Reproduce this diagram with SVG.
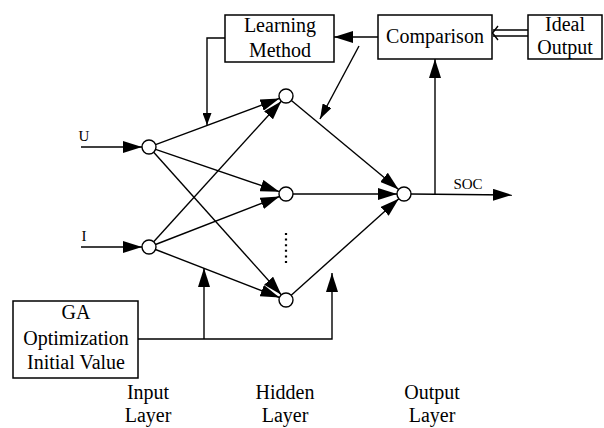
<svg xmlns="http://www.w3.org/2000/svg" width="604" height="428" viewBox="0 0 604 428">
  <style>
    .box { fill: #fff; stroke: #000; stroke-width: 1.5; }
    .node { fill: #fff; stroke: #000; stroke-width: 1.4; }
    .ln { fill: none; stroke: #000; stroke-width: 1.4; }
    text { font-family: 'Liberation Serif', 'DejaVu Serif', Times, serif; fill: #000; text-anchor: middle; }
    .lbl { font-size: 20px; }
    .sm { font-size: 15px; }
    .big { marker-end: url(#ahBig); }
    .mid { marker-end: url(#ahMid); }
    .small { marker-end: url(#ahSmall); }
  </style>
  <defs>
    <marker id="ahBig" markerUnits="userSpaceOnUse" markerWidth="20" markerHeight="12" refX="19" refY="6" orient="auto">
      <path d="M0,0 L19,6 L0,12 z" fill="#000"/>
    </marker>
    <marker id="ahMid" markerUnits="userSpaceOnUse" markerWidth="16" markerHeight="10" refX="15" refY="5" orient="auto">
      <path d="M0,0 L15,5 L0,10 z" fill="#000"/>
    </marker>
    <marker id="ahSmall" markerUnits="userSpaceOnUse" markerWidth="13" markerHeight="9" refX="12" refY="4.5" orient="auto">
      <path d="M0,0 L12,4.5 L0,9 z" fill="#000"/>
    </marker>
  </defs>

  <!-- connectors -->
  <g id="connectors">
    <!-- inputs -->
    <line class="ln big" x1="81" y1="147" x2="142" y2="147"/>
    <line class="ln big" x1="81" y1="247" x2="142" y2="247"/>
    <!-- input layer to hidden layer -->
    <line class="ln big" x1="155.6" y1="144.6" x2="279.4" y2="98.4"/>
    <line class="ln big" x1="155.6" y1="149.3" x2="279.4" y2="191.7"/>
    <line class="ln big" x1="153.7" y1="152.2" x2="281.3" y2="294.8"/>
    <line class="ln big" x1="153.7" y1="241.8" x2="281.3" y2="101.2"/>
    <line class="ln big" x1="155.5" y1="244.5" x2="279.5" y2="196.5"/>
    <line class="ln big" x1="155.5" y1="249.5" x2="279.5" y2="297.5"/>
    <!-- hidden layer to output -->
    <line class="ln big" x1="291.4" y1="100.5" x2="398.6" y2="189.5"/>
    <line class="ln big" x1="293" y1="194" x2="397" y2="194"/>
    <line class="ln big" x1="291.2" y1="295.3" x2="398.8" y2="198.7"/>
    <!-- output -->
    <line class="ln big" x1="411" y1="194" x2="512" y2="195"/>
    <line class="ln big" x1="435" y1="194" x2="435" y2="59"/>
    <!-- comparison feedback -->
    <line class="ln big" x1="378" y1="37" x2="334" y2="37"/>
    <line class="ln mid" x1="359" y1="46" x2="320" y2="119"/>
    <polyline class="ln small" points="225,38 207,38 207,125"/>
    <!-- ideal output into comparison (double line) -->
    <line class="ln" x1="528" y1="30" x2="493" y2="30" stroke-width="1.2"/>
    <line class="ln" x1="528" y1="36" x2="493" y2="36" stroke-width="1.2"/>
    <polyline class="ln" points="498,26 492.5,33 498,40" stroke-width="1.2"/>
    <!-- GA initial values -->
    <polyline class="ln big" points="138,339 332,339 332,273"/>
    <line class="ln big" x1="204" y1="339" x2="204" y2="268"/>
    <!-- more hidden neurons -->
    <line x1="286" y1="233" x2="286" y2="264" stroke="#000" stroke-width="2.2" stroke-dasharray="2 3.6"/>
  </g>

  <!-- neurons -->
  <g id="input-u"><circle class="node" cx="149" cy="147" r="7"/></g>
  <g id="input-i"><circle class="node" cx="149" cy="247" r="7"/></g>
  <g id="hidden-1"><circle class="node" cx="286" cy="96" r="7"/></g>
  <g id="hidden-2"><circle class="node" cx="286" cy="194" r="7"/></g>
  <g id="hidden-n"><circle class="node" cx="286" cy="300" r="7"/></g>
  <g id="output"><circle class="node" cx="404" cy="194" r="7"/></g>

  <!-- blocks -->
  <g id="learning-method">
    <rect class="box" x="225" y="15" width="109" height="47"/>
    <text class="lbl" x="280" y="32">Learning</text>
    <text class="lbl" x="280" y="57">Method</text>
  </g>
  <g id="comparison">
    <rect class="box" x="378" y="15" width="114" height="44"/>
    <text class="lbl" x="435" y="43">Comparison</text>
  </g>
  <g id="ideal-output">
    <rect class="box" x="528" y="15" width="74" height="44"/>
    <text class="lbl" x="565" y="31">Ideal</text>
    <text class="lbl" x="565" y="54">Output</text>
  </g>
  <g id="ga">
    <rect class="box" x="13" y="301" width="125" height="77"/>
    <text class="lbl" x="76" y="319">GA</text>
    <text class="lbl" x="76" y="345">Optimization</text>
    <text class="lbl" x="76" y="369">Initial Value</text>
  </g>

  <!-- signal labels -->
  <text class="sm" x="84" y="141">U</text>
  <text class="sm" x="84" y="241">I</text>
  <text class="sm" x="468" y="189">SOC</text>

  <!-- layer captions -->
  <text class="lbl" x="148" y="399">Input</text>
  <text class="lbl" x="148" y="422">Layer</text>
  <text class="lbl" x="285" y="399">Hidden</text>
  <text class="lbl" x="285" y="422">Layer</text>
  <text class="lbl" x="432" y="399">Output</text>
  <text class="lbl" x="432" y="422">Layer</text>
</svg>
